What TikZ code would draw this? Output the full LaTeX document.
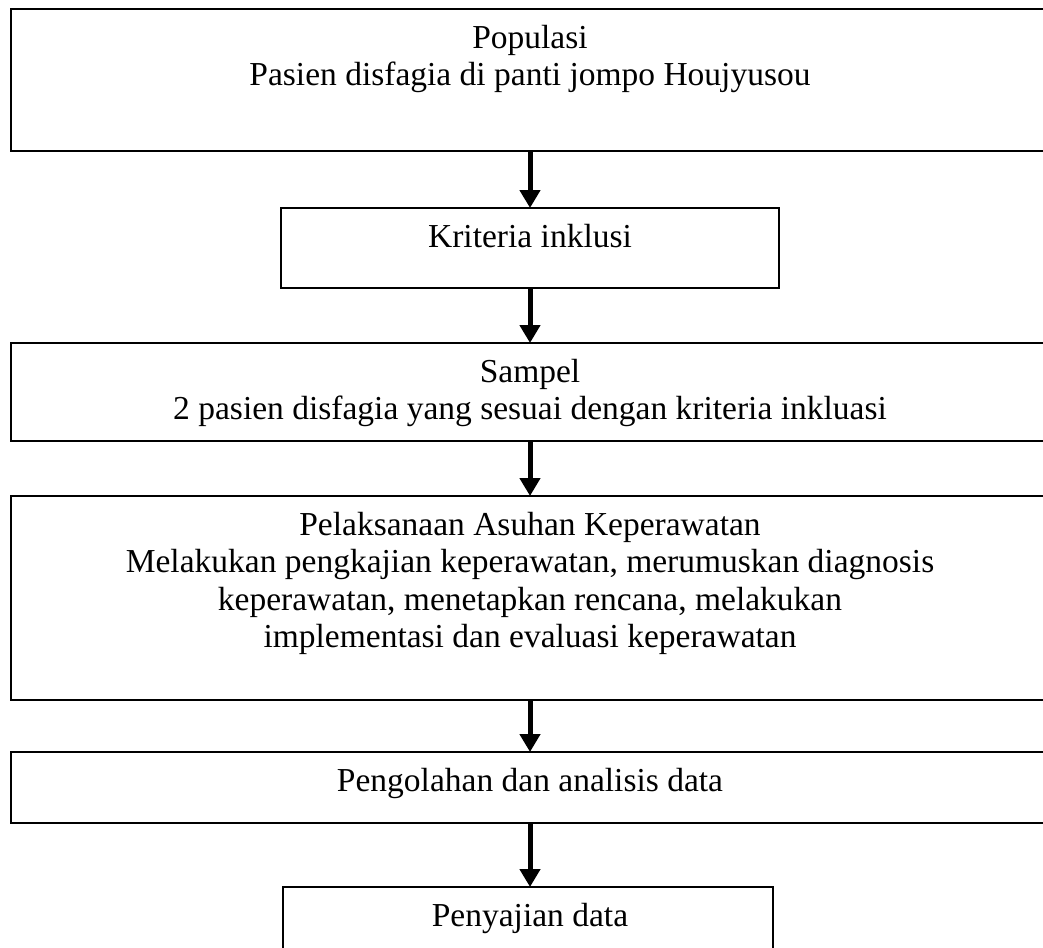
\documentclass[tikz,border=0pt]{standalone}
\usepackage{fontspec}
\setmainfont{Liberation Serif}
\usetikzlibrary{positioning,arrows.meta}
\tikzset{
  box/.style={rectangle,draw=black,line width=1.4pt,inner sep=0pt,outer sep=0pt},
  txt/.style={align=center,inner sep=0pt,anchor=north,
    font=\fontsize{33.5}{37.3}\selectfont},
  fl/.style={-{Triangle[length=18pt,width=20pt]},line width=5pt},
}

\begin{document}
\begin{tikzpicture}[x=1pt,y=1pt]
  \useasboundingbox (0,0) rectangle (1043,-947);
  \clip (0,0) rectangle (1043,-947);
  % boxes, top to bottom
  \node[box,minimum width=1049pt,minimum height=142pt,anchor=north west] (pop) at (11,-9) {};
  \node[box,minimum width=498pt,minimum height=80pt,below=57pt of pop,xshift=-5.5pt] (ki) {};
  \node[box,minimum width=1049pt,minimum height=98pt,below=55pt of ki,xshift=5.5pt] (smp) {};
  \node[box,minimum width=1049pt,minimum height=204pt,below=55pt of smp] (asuh) {};
  \node[box,minimum width=1049pt,minimum height=71pt,below=52pt of asuh] (olah) {};
  \node[box,minimum width=490pt,minimum height=80pt,below=64pt of olah,xshift=-7.5pt] (saji) {};
  % texts
  \node[txt,yshift=-16pt] (pop-t) at (pop.north -| ki) {Populasi\\Pasien disfagia di panti jompo Houjyusou};
  \node[txt,yshift=-16pt] (ki-t) at (ki.north) {Kriteria inklusi};
  \node[txt,yshift=-16pt] (smp-t) at (smp.north -| ki) {Sampel\\2 pasien disfagia yang sesuai dengan kriteria inkluasi};
  \node[txt,yshift=-16pt] (asuh-t) at (asuh.north -| ki) {Pelaksanaan Asuhan Keperawatan\\Melakukan pengkajian keperawatan, merumuskan diagnosis\\keperawatan, menetapkan rencana, melakukan\\implementasi dan evaluasi keperawatan};
  \node[txt,yshift=-16pt] (olah-t) at (olah.north -| ki) {Pengolahan dan analisis data};
  \node[txt,yshift=-16pt] (saji-t) at (saji.north -| ki) {Penyajian data};
  % arrows
  \draw[fl] (pop.south -| ki) -- (ki.north);
  \draw[fl] (ki.south) -- (ki |- smp.north);
  \draw[fl] (smp.south -| ki) -- (ki |- asuh.north);
  \draw[fl] (asuh.south -| ki) -- (ki |- olah.north);
  \draw[fl] (olah.south -| ki) -- (ki |- saji.north);
\end{tikzpicture}
\end{document}
